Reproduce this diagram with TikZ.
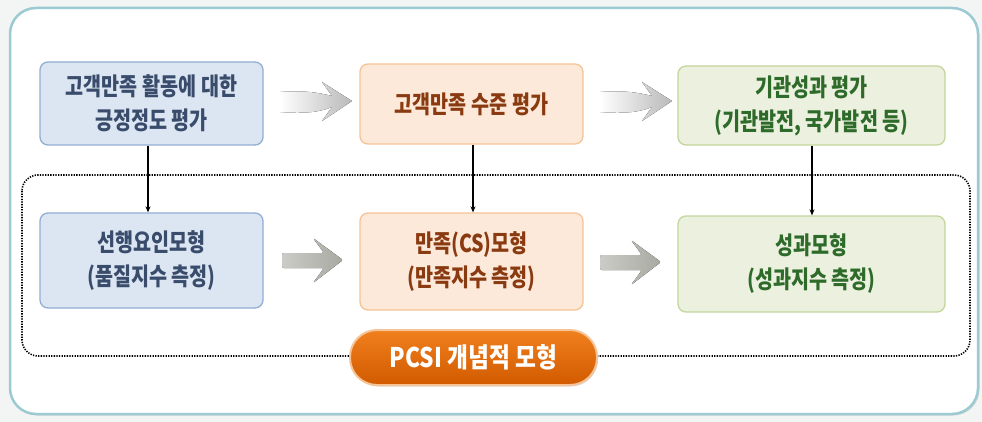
\documentclass[tikz,border=0pt]{standalone}
\usepackage{fontspec}
\setmainfont{Noto Sans CJK KR}
\newfontfamily\condkr[FakeStretch=0.8]{Noto Sans CJK KR}
\newfontfamily\pillkr[FakeStretch=0.84]{Noto Sans CJK KR}
\usetikzlibrary{shadows,arrows.meta}
\definecolor{bgout}{HTML}{F3F5F5}
\definecolor{frame}{HTML}{9CCAD2}
\definecolor{bfill}{HTML}{DCE6F2}
\definecolor{bdraw}{HTML}{93AED2}
\definecolor{btext}{HTML}{3A4C6C}
\definecolor{ofill}{HTML}{FDE9D9}
\definecolor{odraw}{HTML}{F5C396}
\definecolor{otext}{HTML}{8A3A10}
\definecolor{gfill}{HTML}{EBF1DE}
\definecolor{gdraw}{HTML}{C3D69B}
\definecolor{gtext}{HTML}{2E6B2A}
\definecolor{pilltop}{HTML}{F0801E}
\definecolor{pillbot}{HTML}{D25A00}
\definecolor{arrgray}{HTML}{A9A9A2}
\tikzset{
  boxbase/.style={rounded corners=8pt, line width=1.3pt, align=center,
    font=\condkr\bfseries\fontsize{24.5}{34}\selectfont, inner sep=0pt},
  bluebox/.style={boxbase, fill=bfill, draw=bdraw, text=btext},
  orangebox/.style={boxbase, fill=ofill, draw=odraw, text=otext},
  greenbox/.style={boxbase, fill=gfill, draw=gdraw, text=gtext},
  downarrow/.style={-{Stealth[length=6pt,width=5pt]}, line width=1.3pt, black},
  fadearrow/.style={left color=white, right color=gray!55, draw=none},
  solidarrow/.style={left color=arrgray!60, right color=arrgray, draw=none, rounded corners=2pt}
}
\begin{document}
\begin{tikzpicture}[x=1pt,y=-1pt]
\useasboundingbox (0,0) rectangle (982,422);
\fill[bgout] (0,0) rectangle (982,422);
% outer frame
\draw[frame, line width=2.5pt, fill=white, rounded corners=26pt,
  drop shadow={shadow xshift=1.5pt, shadow yshift=-1.5pt, opacity=0.25}]
  (10,8) rectangle (978,414);
% dotted frame
\draw[line width=1.6pt, dash pattern=on 1.3pt off 1.3pt, rounded corners=16pt]
  (22,175) rectangle (970,356);
% top boxes
\node[bluebox, minimum width=223pt, minimum height=83pt] (a) at (151.5,103.5)
  {고객만족 활동에 대한\\긍정정도 평가};
\node[orangebox, minimum width=223pt, minimum height=80pt] (b) at (471.5,104)
  {고객만족 수준 평가};
\node[greenbox, minimum width=267pt, minimum height=79pt] (c) at (811.5,105.5)
  {기관성과 평가\\(기관발전, 국가발전 등)};
% bottom boxes
\node[bluebox, minimum width=223pt, minimum height=95pt] (d) at (151.5,260.5)
  {선행요인모형\\(품질지수 측정)};
\node[orangebox, minimum width=223pt, minimum height=97pt] (e) at (471.5,261.5)
  {만족(CS)모형\\(만족지수 측정)};
\node[greenbox, minimum width=267pt, minimum height=96pt] (f) at (811.5,264)
  {성과모형\\(성과지수 측정)};
% vertical arrows
\draw[downarrow] (a.south -| 148,0) -- (d.north -| 148,0);
\draw[downarrow] (b.south -| 473,0) -- (e.north -| 473,0);
\draw[downarrow] (c.south -| 812,0) -- (f.north -| 812,0);
% top faded arrows
\fill[fadearrow] (280,92) .. controls (305,90) and (320,93) .. (332,96)
  -- (322,82) -- (352,101) -- (322,121) -- (332,107)
  .. controls (320,112) and (305,114) .. (280,112) -- cycle;
\fill[fadearrow] (600,92) .. controls (625,90) and (640,93) .. (652,96)
  -- (642,82) -- (672,101) -- (642,121) -- (652,107)
  .. controls (640,112) and (625,114) .. (600,112) -- cycle;
% bottom solid arrows
\fill[solidarrow] (282,253) -- (324,253) -- (313,238) -- (343,260) -- (313,283)
  -- (324,268) -- (282,268) -- cycle;
\fill[solidarrow] (600,255) -- (642,255) -- (631,240) -- (661,262) -- (631,285)
  -- (642,270) -- (600,270) -- cycle;
% PCSI pill
\node[rounded corners=27pt, minimum width=247pt, minimum height=55pt,
  top color=pilltop, bottom color=pillbot, draw=odraw, line width=2pt,
  drop shadow={shadow xshift=1pt, shadow yshift=-1.5pt, opacity=0.3},
  text=white, font=\pillkr\bfseries\fontsize{27}{28}\selectfont] (p) at (473.5,357.5)
  {PCSI 개념적 모형};
\end{tikzpicture}
\end{document}
